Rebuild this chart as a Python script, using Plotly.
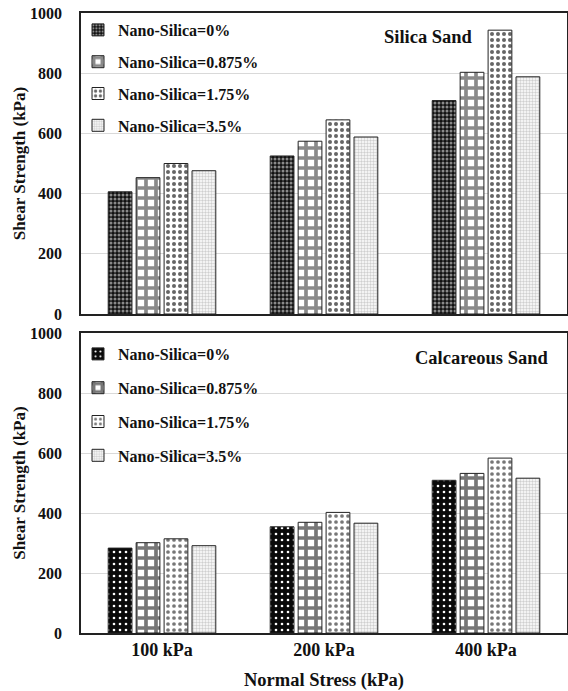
import plotly.graph_objects as go
from plotly.subplots import make_subplots

categories = ["100 kPa", "200 kPa", "400 kPa"]
series_names = ["Nano-Silica=0%", "Nano-Silica=0.875%", "Nano-Silica=1.75%", "Nano-Silica=3.5%"]

silica_0 = [406, 525, 709]
silica_0875 = [453, 574, 803]
silica_175 = [500, 645, 943]
silica_35 = [476, 588, 788]

calc_0 = [283, 354, 509]
calc_0875 = [301, 369, 532]
calc_175 = [314, 402, 583]
calc_35 = [291, 366, 516]

FONT = "Liberation Serif"

top_patterns = [
    dict(shape=".", bgcolor="#111111", fgcolor="#8a8a8a", size=4, solidity=0.45),
    dict(shape="+", bgcolor="#ffffff", fgcolor="#8a8a8a", size=10, solidity=0.6),
    dict(shape=".", bgcolor="#ffffff", fgcolor="#666666", size=6, solidity=0.35),
    dict(shape=".", bgcolor="#ffffff", fgcolor="#cfcfcf", size=3, solidity=0.5),
]
bot_patterns = [
    dict(shape=".", bgcolor="#0a0a0a", fgcolor="#ffffff", size=6, solidity=0.15),
    dict(shape="+", bgcolor="#ffffff", fgcolor="#777777", size=10, solidity=0.6),
    dict(shape=".", bgcolor="#ffffff", fgcolor="#777777", size=6, solidity=0.3),
    dict(shape=".", bgcolor="#ffffff", fgcolor="#cfcfcf", size=3, solidity=0.5),
]

fig = make_subplots(rows=2, cols=1, shared_xaxes=False, vertical_spacing=0.03)

xs = list(range(len(categories)))
top_data = [silica_0, silica_0875, silica_175, silica_35]
bot_data = [calc_0, calc_0875, calc_175, calc_35]

for i, (name, vals) in enumerate(zip(series_names, top_data)):
    fig.add_trace(go.Bar(
        x=xs, y=vals, name="<b>%s</b>" % name, legend="legend", legendgroup="t%d" % i,
        marker=dict(pattern=dict(fillmode="replace", **top_patterns[i]),
                    line=dict(color="#222222", width=1)),
    ), row=1, col=1)

for i, (name, vals) in enumerate(zip(series_names, bot_data)):
    fig.add_trace(go.Bar(
        x=xs, y=vals, name="<b>%s</b>" % name, legend="legend2", legendgroup="b%d" % i,
        marker=dict(pattern=dict(fillmode="replace", **bot_patterns[i]),
                    line=dict(color="#222222", width=1)),
    ), row=2, col=1)

# pixel layout helpers: plot area top=13, bottom=633 (height 620)
def py(p):
    return (633 - p) / 620.0

def px(p):
    return (p - 81) / 486.0

yaxis_common = dict(
    range=[0, 1000], dtick=200, showgrid=True, gridcolor="#d9d9d9", gridwidth=1,
    showline=True, linecolor="#222222", linewidth=1.5, mirror=True,
    tickfont=dict(family=FONT, size=16, color="#111111"),
    ticklabelstandoff=14, zeroline=False, automargin=False,
    title=dict(text="<b>Shear Strength (kPa)</b>", font=dict(family=FONT, size=17, color="#111111"), standoff=0),
    tickprefix="<b>", ticksuffix="</b>",
)
xaxis_common = dict(
    range=[-0.5, 2.5], showline=True, linecolor="#222222", linewidth=1.5, mirror=True,
    showgrid=False, zeroline=False, automargin=False,
    tickmode="array", tickvals=xs, ticktext=["<b>%s</b>" % c for c in categories],
    tickfont=dict(family=FONT, size=18, color="#111111"),
)

fig.update_layout(
    width=568, height=691,
    margin=dict(l=81, r=1, t=13, b=58),
    paper_bgcolor="white", plot_bgcolor="white",
    barmode="group", bargap=0.31, bargroupgap=0.15,
    font=dict(family=FONT, color="#111111"),
    xaxis=dict(domain=[0, 1], showticklabels=False, anchor="y", **xaxis_common),
    yaxis=dict(domain=[py(314), 1.0], anchor="x", **yaxis_common),
    xaxis2=dict(domain=[0, 1], anchor="y2",
                title=dict(text="<b>Normal Stress (kPa)</b>", font=dict(family=FONT, size=18.5, color="#111111"), standoff=14),
                **xaxis_common),
    yaxis2=dict(domain=[0, py(333)], anchor="x2", **yaxis_common),
    legend=dict(x=px(78), y=py(13), xanchor="left", yanchor="top",
                bgcolor="rgba(255,255,255,0)", itemwidth=30,
                traceorder="grouped", tracegroupgap=8,
                font=dict(family=FONT, size=16, color="#111111")),
    legend2=dict(x=px(78), y=py(337), xanchor="left", yanchor="top",
                 bgcolor="rgba(255,255,255,0)", itemwidth=30,
                 traceorder="grouped", tracegroupgap=10,
                 font=dict(family=FONT, size=16, color="#111111")),
    annotations=[
        dict(text="<b>Silica Sand</b>", x=px(428), y=py(37), xref="paper", yref="paper",
             xanchor="center", yanchor="middle",
             showarrow=False, font=dict(family=FONT, size=18.5, color="#111111")),
        dict(text="<b>Calcareous Sand</b>", x=px(481), y=py(358), xref="paper", yref="paper",
             xanchor="center", yanchor="middle",
             showarrow=False, font=dict(family=FONT, size=18.5, color="#111111")),
    ],
)

fig.write_html("out.html", config={"displayModeBar": False},
               post_script="document.body.style.margin='0';")
